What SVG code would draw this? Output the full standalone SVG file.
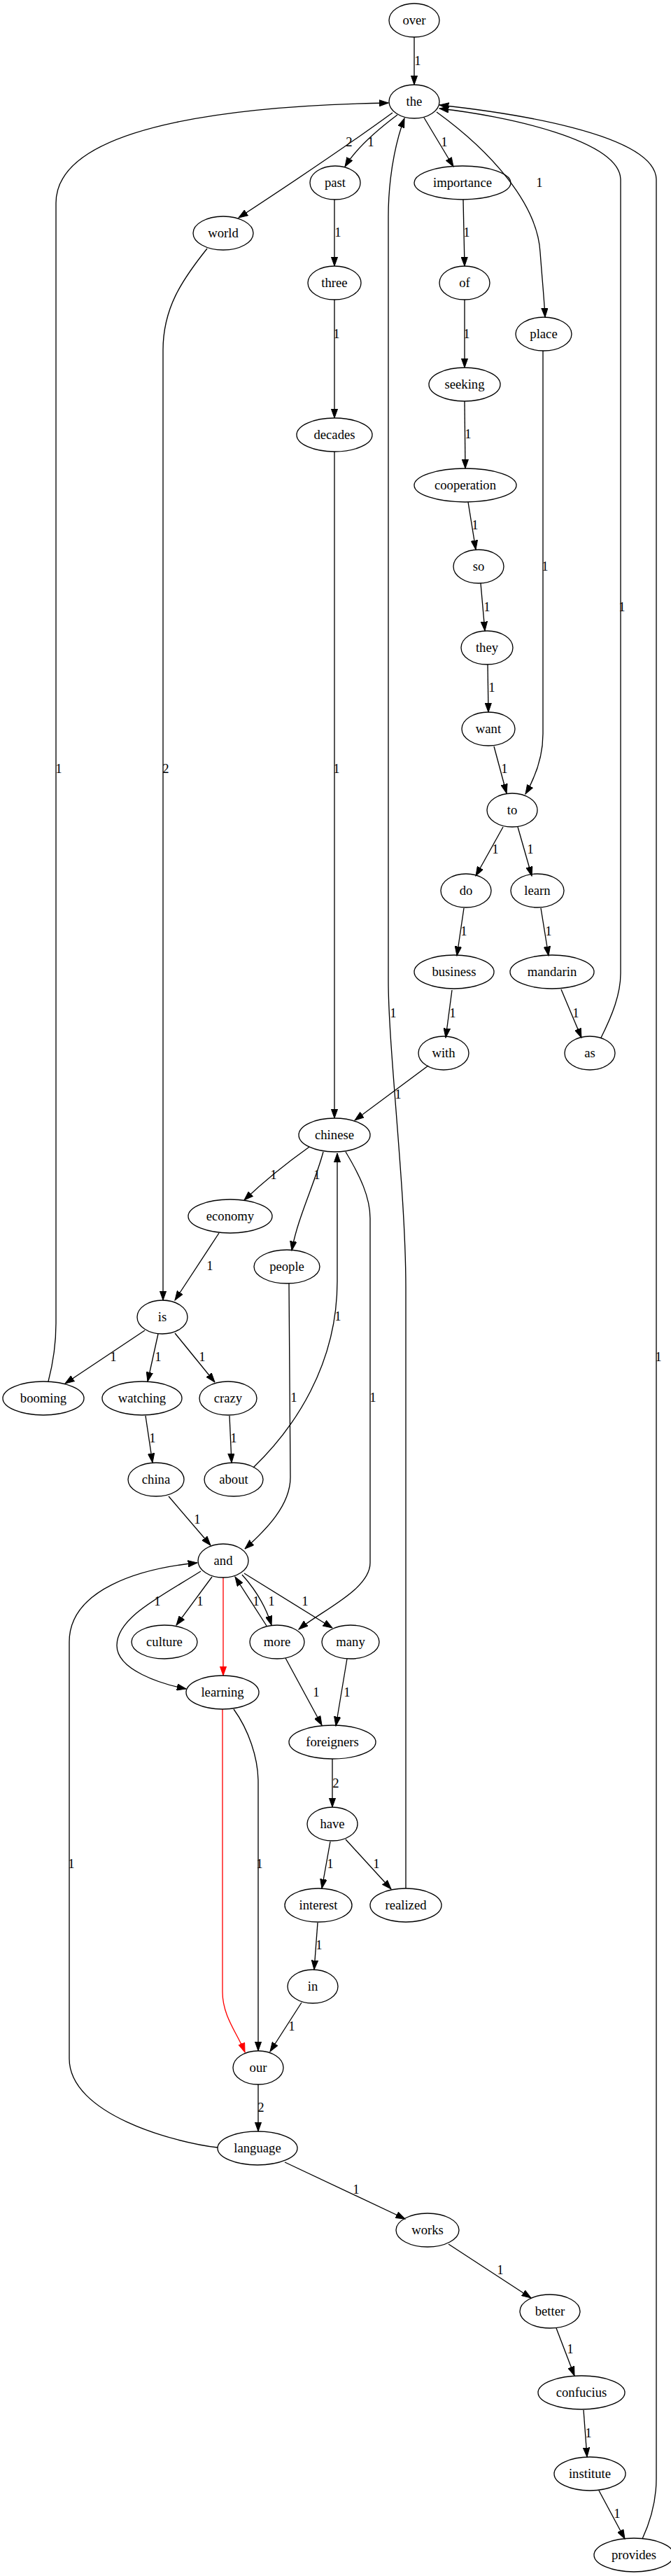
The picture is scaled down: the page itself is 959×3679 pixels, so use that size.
<svg xmlns="http://www.w3.org/2000/svg" width="959" height="3679" viewBox="0 0 959 3679">
<style>
.n ellipse{fill:none;stroke:#000;stroke-width:1.33}
.n text{font-family:"Liberation Serif","Times New Roman",serif;font-size:18.67px;text-anchor:middle;fill:#000}
.e path{fill:none;stroke:#000;stroke-width:1.33;marker-end:url(#ah)}
.e path.r{stroke:#f00;marker-end:url(#ahr)}
.e text{font-family:"Liberation Serif","Times New Roman",serif;font-size:18.67px;text-anchor:middle;fill:#000}
</style>
<defs>
<marker id="ah" markerUnits="userSpaceOnUse" viewBox="0 0 14 10" markerWidth="14" markerHeight="10" refX="13.3" refY="5" orient="auto"><path d="M0,0.3 L13.3,5 L0,9.7 Z" fill="#000" stroke="#000" stroke-width="1"/></marker>
<marker id="ahr" markerUnits="userSpaceOnUse" viewBox="0 0 14 10" markerWidth="14" markerHeight="10" refX="13.3" refY="5" orient="auto"><path d="M0,0.3 L13.3,5 L0,9.7 Z" fill="#f00" stroke="#f00" stroke-width="1"/></marker>
</defs>
<rect width="959" height="3679" fill="#fff"/>
<g id="edges" class="e">
<path d="M592,53 L592,121"/><text x="597" y="93">1</text>
<path d="M561,161 Q480,220 341,311"/><text x="499" y="209">2</text>
<path d="M568,164 C540,185 510,210 493,238"/><text x="530" y="209">1</text>
<path d="M606,168 L648,238"/><text x="635" y="209">1</text>
<path d="M624,160 C700,215 768,290 772,360 C775,400 778,430 779,453"/><text x="771" y="267">1</text>
<path d="M478,285 L478,380"/><text x="483" y="338">1</text>
<path d="M478,428 L478,597"/><text x="481" y="483">1</text>
<path d="M662,285 L664,380"/><text x="667" y="338">1</text>
<path d="M664,428 L664,525"/><text x="667" y="483">1</text>
<path d="M664,573 L665,669"/><text x="669" y="626">1</text>
<path d="M669,717 L680,785"/><text x="679" y="756">1</text>
<path d="M687,833 L693,901"/><text x="696" y="873">1</text>
<path d="M697,949 L698,1017"/><text x="703" y="988">1</text>
<path d="M706,1066 L724,1133"/><text x="721" y="1104">1</text>
<path d="M776,501 L776,1048 C776,1080 765,1110 751,1134"/><text x="779" y="815">1</text>
<path d="M719,1181 L680,1251"/><text x="708" y="1219">1</text>
<path d="M740,1181 L760,1251"/><text x="758" y="1219">1</text>
<path d="M663,1297 L653,1365"/><text x="663" y="1336">1</text>
<path d="M773,1297 L784,1365"/><text x="784" y="1336">1</text>
<path d="M646,1414 L637,1482"/><text x="647" y="1453">1</text>
<path d="M802,1413 L831,1482"/><text x="823" y="1453">1</text>
<path d="M859,1482 C875,1450 887,1420 887,1390 L887,257 C887,200 720,165 628,155"/><text x="889" y="873">1</text>
<path d="M918,3626 C930,3600 938,3570 938,3540 L938,257 C938,190 720,160 628,150"/><text x="941" y="1944">1</text>
<path d="M580,2697 L580,1840 C580,1700 555,1500 555,1400 L555,310 C555,240 570,190 578,169"/><text x="562" y="1453">1</text>
<path d="M69,1973 C75,1950 80,1920 80,1890 L80,290 C80,170 380,150 555,147"/><text x="84" y="1104">1</text>
<path d="M296,355 C260,400 233,440 233,500 L233,1857"/><text x="237" y="1104">2</text>
<path d="M478,645 L478,1597"/><text x="481" y="1104">1</text>
<path d="M612,1522 L507,1600"/><text x="569" y="1569">1</text>
<path d="M442,1638 Q390,1675 349,1714"/><text x="391" y="1684">1</text>
<path d="M462,1645 C450,1690 425,1740 417,1786"/><text x="453" y="1684">1</text>
<path d="M494,1645 C515,1680 529,1710 529,1740 L529,2232 C529,2270 460,2300 427,2327"/><text x="533" y="2002">1</text>
<path d="M313,1761 L250,1857"/><text x="300" y="1814">1</text>
<path d="M207,1900 L93,1976"/><text x="162" y="1944">1</text>
<path d="M226,1905 L211,1973"/><text x="226" y="1944">1</text>
<path d="M250,1904 L307,1974"/><text x="289" y="1944">1</text>
<path d="M208,2022 L218,2089"/><text x="218" y="2060">1</text>
<path d="M328,2022 L331,2089"/><text x="334" y="2060">1</text>
<path d="M362,2096 C420,2040 482,1950 482,1830 L482,1647"/><text x="483" y="1886">1</text>
<path d="M413,1833 L415,2110 C415,2150 380,2185 350,2212"/><text x="420" y="2002">1</text>
<path d="M241,2137 L301,2207"/><text x="282" y="2176">1</text>
<path d="M303,2252 L252,2321"/><text x="286" y="2293">1</text>
<path d="M287,2244 C230,2280 167,2310 167,2350 C167,2385 230,2405 266,2412"/><text x="225" y="2293">1</text>
<path class="r" d="M319,2253 L319,2393"/>
<path d="M381,2322 L336,2252"/><text x="366" y="2293">1</text>
<path d="M346,2249 C365,2270 380,2295 388,2321"/><text x="388" y="2293">1</text>
<path d="M349,2247 L475,2325"/><text x="436" y="2293">1</text>
<path d="M408,2368 L460,2464"/><text x="452" y="2423">1</text>
<path d="M496,2369 L480,2465"/><text x="496" y="2423">1</text>
<path d="M334,2441 C355,2470 369,2510 369,2545 L369,2929"/><text x="371" y="2668">1</text>
<path class="r" d="M318,2441 L318,2845 C318,2880 340,2905 350,2931"/>
<path d="M475,2512 L475,2581"/><text x="480" y="2553">2</text>
<path d="M472,2630 L460,2697"/><text x="472" y="2668">1</text>
<path d="M494,2627 L559,2698"/><text x="538" y="2668">1</text>
<path d="M454,2746 L449,2813"/><text x="456" y="2784">1</text>
<path d="M431,2860 L386,2930"/><text x="417" y="2900">1</text>
<path d="M369,2977 L369,3044"/><text x="373" y="3016">2</text>
<path d="M311,3067 C250,3060 99,3020 99,2940 L99,2345 C99,2270 200,2240 282,2232"/><text x="102" y="2668">1</text>
<path d="M407,3088 L579,3169"/><text x="509" y="3133">1</text>
<path d="M641,3205 L759,3282"/><text x="715" y="3248">1</text>
<path d="M795,3325 L821,3393"/><text x="815" y="3361">1</text>
<path d="M834,3442 L839,3509"/><text x="841" y="3481">1</text>
<path d="M856,3557 L893,3626"/><text x="882" y="3596">1</text>
</g>
<g id="over" class="n"><ellipse cx="592" cy="29" rx="36" ry="24"/><text x="592" y="35">over</text></g>
<g id="the" class="n"><ellipse cx="592" cy="145" rx="36" ry="24"/><text x="592" y="151">the</text></g>
<g id="past" class="n"><ellipse cx="479" cy="261" rx="36" ry="24"/><text x="479" y="267">past</text></g>
<g id="importance" class="n"><ellipse cx="661" cy="261" rx="69" ry="24"/><text x="661" y="267">importance</text></g>
<g id="world" class="n"><ellipse cx="319" cy="333" rx="43" ry="24"/><text x="319" y="339">world</text></g>
<g id="three" class="n"><ellipse cx="478" cy="404" rx="38" ry="24"/><text x="478" y="410">three</text></g>
<g id="of" class="n"><ellipse cx="664" cy="404" rx="36" ry="24"/><text x="664" y="410">of</text></g>
<g id="place" class="n"><ellipse cx="777" cy="477" rx="40" ry="24"/><text x="777" y="483">place</text></g>
<g id="seeking" class="n"><ellipse cx="664" cy="549" rx="51" ry="24"/><text x="664" y="555">seeking</text></g>
<g id="decades" class="n"><ellipse cx="478" cy="621" rx="54" ry="24"/><text x="478" y="627">decades</text></g>
<g id="cooperation" class="n"><ellipse cx="665" cy="693" rx="73" ry="24"/><text x="665" y="699">cooperation</text></g>
<g id="so" class="n"><ellipse cx="684" cy="809" rx="36" ry="24"/><text x="684" y="815">so</text></g>
<g id="they" class="n"><ellipse cx="696" cy="925" rx="37" ry="24"/><text x="696" y="931">they</text></g>
<g id="want" class="n"><ellipse cx="698" cy="1041" rx="38" ry="24"/><text x="698" y="1047">want</text></g>
<g id="to" class="n"><ellipse cx="732" cy="1157" rx="36" ry="24"/><text x="732" y="1163">to</text></g>
<g id="do" class="n"><ellipse cx="666" cy="1272" rx="36" ry="24"/><text x="666" y="1278">do</text></g>
<g id="learn" class="n"><ellipse cx="768" cy="1272" rx="38" ry="24"/><text x="768" y="1278">learn</text></g>
<g id="business" class="n"><ellipse cx="649" cy="1388" rx="57" ry="24"/><text x="649" y="1394">business</text></g>
<g id="mandarin" class="n"><ellipse cx="789" cy="1388" rx="60" ry="24"/><text x="789" y="1394">mandarin</text></g>
<g id="with" class="n"><ellipse cx="634" cy="1504" rx="36" ry="24"/><text x="634" y="1510">with</text></g>
<g id="as" class="n"><ellipse cx="843" cy="1504" rx="36" ry="24"/><text x="843" y="1510">as</text></g>
<g id="chinese" class="n"><ellipse cx="478" cy="1621" rx="51" ry="24"/><text x="478" y="1627">chinese</text></g>
<g id="economy" class="n"><ellipse cx="329" cy="1737" rx="60" ry="24"/><text x="329" y="1743">economy</text></g>
<g id="people" class="n"><ellipse cx="410" cy="1809" rx="47" ry="24"/><text x="410" y="1815">people</text></g>
<g id="is" class="n"><ellipse cx="232" cy="1881" rx="36" ry="24"/><text x="232" y="1887">is</text></g>
<g id="booming" class="n"><ellipse cx="62" cy="1997" rx="58" ry="24"/><text x="62" y="2003">booming</text></g>
<g id="watching" class="n"><ellipse cx="203" cy="1997" rx="57" ry="24"/><text x="203" y="2003">watching</text></g>
<g id="crazy" class="n"><ellipse cx="326" cy="1997" rx="41" ry="24"/><text x="326" y="2003">crazy</text></g>
<g id="china" class="n"><ellipse cx="223" cy="2113" rx="40" ry="24"/><text x="223" y="2119">china</text></g>
<g id="about" class="n"><ellipse cx="334" cy="2113" rx="42" ry="24"/><text x="334" y="2119">about</text></g>
<g id="and" class="n"><ellipse cx="319" cy="2229" rx="36" ry="24"/><text x="319" y="2235">and</text></g>
<g id="culture" class="n"><ellipse cx="235" cy="2345" rx="47" ry="24"/><text x="235" y="2351">culture</text></g>
<g id="more" class="n"><ellipse cx="396" cy="2345" rx="39" ry="24"/><text x="396" y="2351">more</text></g>
<g id="many" class="n"><ellipse cx="501" cy="2345" rx="41" ry="24"/><text x="501" y="2351">many</text></g>
<g id="learning" class="n"><ellipse cx="318" cy="2417" rx="52" ry="24"/><text x="318" y="2423">learning</text></g>
<g id="foreigners" class="n"><ellipse cx="475" cy="2488" rx="62" ry="24"/><text x="475" y="2494">foreigners</text></g>
<g id="have" class="n"><ellipse cx="475" cy="2605" rx="36" ry="24"/><text x="475" y="2611">have</text></g>
<g id="interest" class="n"><ellipse cx="455" cy="2721" rx="48" ry="24"/><text x="455" y="2727">interest</text></g>
<g id="realized" class="n"><ellipse cx="580" cy="2721" rx="51" ry="24"/><text x="580" y="2727">realized</text></g>
<g id="in" class="n"><ellipse cx="447" cy="2837" rx="36" ry="24"/><text x="447" y="2843">in</text></g>
<g id="our" class="n"><ellipse cx="369" cy="2953" rx="36" ry="24"/><text x="369" y="2959">our</text></g>
<g id="language" class="n"><ellipse cx="368" cy="3068" rx="57" ry="24"/><text x="368" y="3074">language</text></g>
<g id="works" class="n"><ellipse cx="611" cy="3185" rx="45" ry="24"/><text x="611" y="3191">works</text></g>
<g id="better" class="n"><ellipse cx="786" cy="3301" rx="43" ry="24"/><text x="786" y="3307">better</text></g>
<g id="confucius" class="n"><ellipse cx="831" cy="3417" rx="62" ry="24"/><text x="831" y="3423">confucius</text></g>
<g id="institute" class="n"><ellipse cx="843" cy="3533" rx="51" ry="24"/><text x="843" y="3539">institute</text></g>
<g id="provides" class="n"><ellipse cx="906" cy="3649" rx="57" ry="24"/><text x="906" y="3655">provides</text></g>
</svg>
